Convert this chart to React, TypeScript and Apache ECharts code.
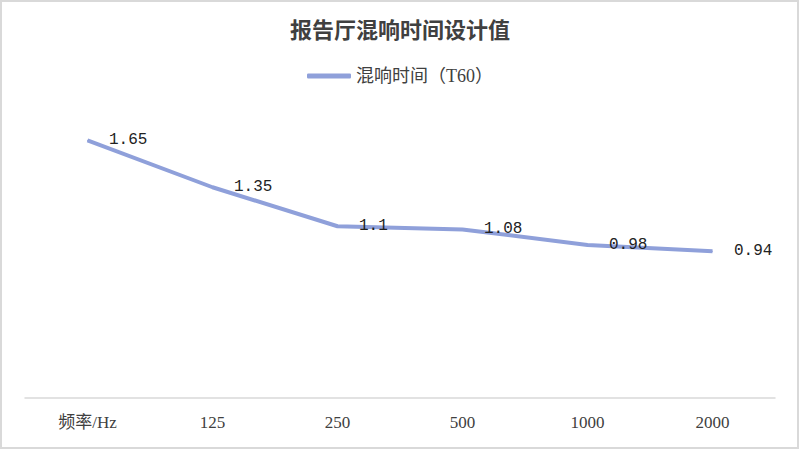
import React, { useEffect, useRef } from "react";
import * as echarts from "echarts";

const categories = ["频率/Hz", "125", "250", "500", "1000", "2000"];
const t60Values = [1.65, 1.35, 1.1, 1.08, 0.98, 0.94];
const seriesName = "混响时间（T60）";
const titleText = "报告厅混响时间设计值";

export default function App() {
  const ref = useRef<HTMLDivElement>(null);
  useEffect(() => {
    document.body.style.margin = "0";
    const chart = echarts.init(ref.current!, null, { renderer: "svg" });
    const serif = "'Liberation Serif', 'Noto Sans CJK SC', serif";
    chart.setOption({
      animation: false,
      backgroundColor: "#ffffff",
      graphic: [
        {
          type: "rect",
          shape: { x: 1, y: 1, width: 797, height: 447 },
          style: { fill: "none", stroke: "#d9d9d9", lineWidth: 2 },
          silent: true,
        },
      ],
      title: {
        text: titleText,
        left: "center",
        top: 14,
        textStyle: { fontFamily: serif, fontSize: 22, fontWeight: "bold", color: "#404040" },
      },
      legend: {
        top: 62,
        left: "center",
        icon: "roundRect",
        itemWidth: 44,
        itemHeight: 5,
        itemGap: 7,
        textStyle: { fontFamily: serif, fontSize: 18, color: "#404040" },
        data: [seriesName],
      },
      grid: { left: 25, right: 25, top: 117, bottom: 52, containLabel: false },
      xAxis: {
        type: "category",
        data: categories,
        boundaryGap: true,
        axisLine: { lineStyle: { color: "#d9d9d9", width: 1.5 } },
        axisTick: { show: false },
        axisLabel: { fontFamily: serif, fontSize: 17, color: "#404040", margin: 16 },
      },
      yAxis: {
        type: "value",
        min: 0,
        max: 1.8,
        show: false,
        splitLine: { show: false },
      },
      series: [
        {
          name: seriesName,
          type: "line",
          data: t60Values,
          showSymbol: true,
          symbol: "circle",
          symbolSize: 1,
          itemStyle: { color: "#8FA0DA" },
          lineStyle: { color: "#8FA0DA", width: 4 },
          label: {
            show: true,
            position: "right",
            distance: 21,
            fontFamily: "'Liberation Mono', monospace",
            fontSize: 16,
            color: "#222222",
          },
        },
      ],
    });
    return () => chart.dispose();
  }, []);
  return <div ref={ref} style={{ width: 800, height: 450 }} />;
}
